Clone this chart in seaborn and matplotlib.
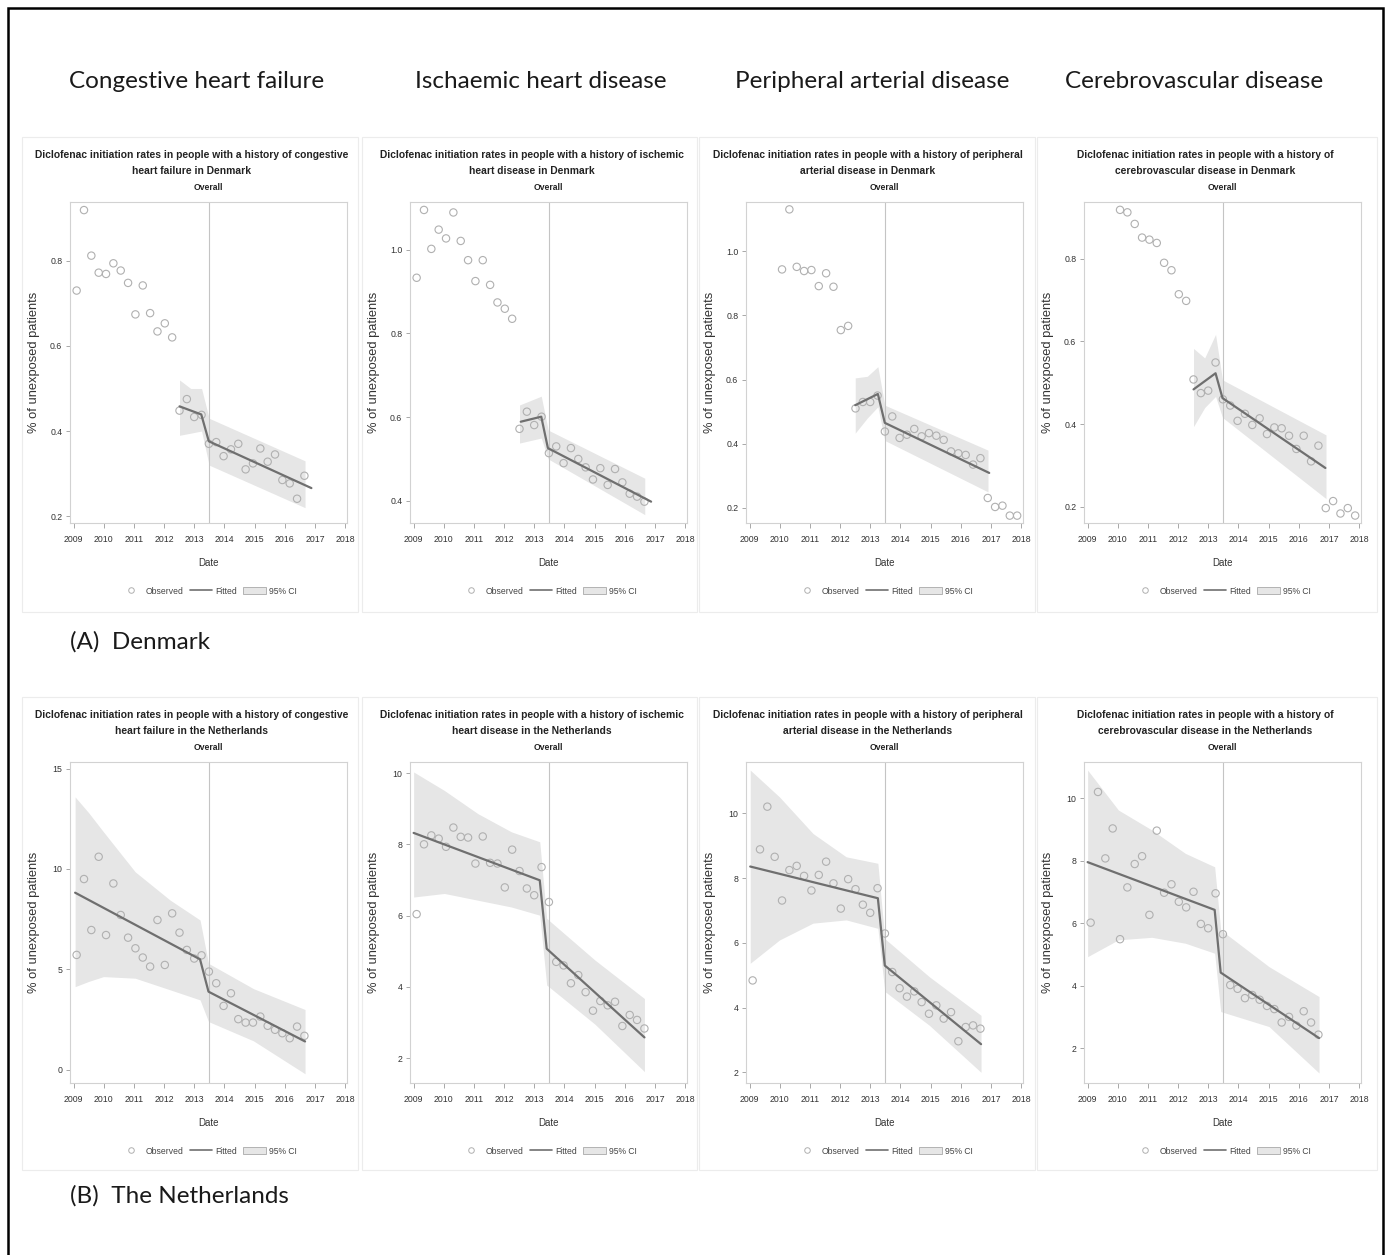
import numpy as np
import pandas as pd
import matplotlib
matplotlib.use("Agg")
import matplotlib.pyplot as plt
import seaborn as sns
from matplotlib.lines import Line2D
from matplotlib.patches import Patch, Rectangle

# ---- data ---------------------------------------------------------------
# observed quarterly rates; each series starts at a quarter index (0 = 2009 Q1)
chf_dk_start = 0
chf_dk_obs = [0.73, 0.919, 0.812, 0.772, 0.769, 0.794, 0.777, 0.748, 0.674, 0.742, 0.677, 0.634, 0.653, 0.620,
              0.448, 0.475, 0.433, 0.438, 0.370, 0.374, 0.341, 0.357, 0.370, 0.310, 0.324, 0.359, 0.328, 0.345,
              0.285, 0.277, 0.241, 0.295]
chf_dk_fit_x = [2012.51, 2013.23, 2013.48, 2016.88]
chf_dk_fit_y = [0.458, 0.439, 0.376, 0.266]
chf_dk_ci_x = [2012.51, 2012.88, 2013.24, 2013.49, 2016.67]
chf_dk_ci_lo = [0.39, 0.395, 0.40, 0.32, 0.22]
chf_dk_ci_hi = [0.52, 0.50, 0.50, 0.43, 0.33]

ihd_dk_start = 0
ihd_dk_obs = [0.933, 1.095, 1.002, 1.048, 1.027, 1.089, 1.021, 0.975, 0.925, 0.975, 0.916, 0.874, 0.859, 0.835,
              0.572, 0.613, 0.581, 0.601, 0.514, 0.530, 0.490, 0.526, 0.500, 0.480, 0.451, 0.478, 0.438, 0.476,
              0.444, 0.417, 0.410, 0.398]
ihd_dk_fit_x = [2012.55, 2013.23, 2013.45, 2016.87]
ihd_dk_fit_y = [0.589, 0.601, 0.526, 0.398]
ihd_dk_ci_x = [2012.51, 2013.23, 2013.46, 2016.66]
ihd_dk_ci_lo = [0.538, 0.55, 0.50, 0.367]
ihd_dk_ci_hi = [0.629, 0.65, 0.569, 0.454]

pad_dk_start = 4
pad_dk_obs = [0.943, 1.130, 0.951, 0.938, 0.941, 0.891, 0.931, 0.889, 0.754, 0.767,
              0.51, 0.53, 0.53, 0.55,
              0.438, 0.485, 0.418, 0.428, 0.446, 0.423, 0.433, 0.425, 0.412, 0.376, 0.370, 0.365, 0.335, 0.355,
              0.231, 0.203, 0.207, 0.176, 0.176]
pad_dk_fit_x = [2012.50, 2013.25, 2013.48, 2016.94]
pad_dk_fit_y = [0.52, 0.555, 0.465, 0.309]
pad_dk_ci_x = [2012.50, 2012.90, 2013.25, 2013.48, 2016.90]
pad_dk_ci_lo = [0.433, 0.48, 0.515, 0.41, 0.25]
pad_dk_ci_hi = [0.605, 0.61, 0.64, 0.52, 0.38]

cvd_dk_start = 4
cvd_dk_obs = [0.918, 0.912, 0.884, 0.851, 0.846, 0.838, 0.790, 0.772, 0.714, 0.698,
              0.508, 0.475, 0.481, 0.549,
              0.460, 0.445, 0.408, 0.425, 0.398, 0.414, 0.376, 0.392, 0.390, 0.372, 0.340, 0.372, 0.310, 0.348,
              0.197, 0.214, 0.184, 0.197, 0.179]
cvd_dk_fit_x = [2012.51, 2013.24, 2013.47, 2016.88]
cvd_dk_fit_y = [0.484, 0.523, 0.463, 0.294]
cvd_dk_ci_x = [2012.51, 2012.88, 2013.24, 2013.47, 2016.90]
cvd_dk_ci_lo = [0.394, 0.44, 0.467, 0.416, 0.22]
cvd_dk_ci_hi = [0.583, 0.56, 0.617, 0.507, 0.374]

chf_nl_start = 0
chf_nl_obs = [5.72, 9.50, 6.96, 10.61, 6.71, 9.28, 7.71, 6.58, 6.05, 5.59, 5.14, 7.46, 5.22, 7.79, 6.83, 5.97,
              5.54, 5.70, 4.89, 4.31, 3.18, 3.81, 2.52, 2.35, 2.35, 2.65, 2.19, 1.99, 1.82, 1.57, 2.15, 1.69]
chf_nl_fit_x = [2009.05, 2013.19, 2013.47, 2016.67]
chf_nl_fit_y = [8.82, 5.50, 3.89, 1.41]
chf_nl_ci_x = [2009.05, 2009.50, 2009.99, 2011.04, 2012.20, 2013.19, 2013.47, 2014.96, 2016.67]
chf_nl_ci_lo = [4.14, 4.40, 4.64, 4.56, 3.98, 3.48, 2.40, 1.44, -0.20]
chf_nl_ci_hi = [13.59, 12.80, 11.85, 9.86, 8.45, 7.46, 5.30, 4.04, 3.00]

ihd_nl_start = 0
ihd_nl_obs = [6.04, 8.00, 8.25, 8.16, 7.93, 8.47, 8.21, 8.19, 7.46, 8.22, 7.48, 7.46, 6.79, 7.85, 7.25, 6.76,
              6.57, 7.36, 6.38, 4.70, 4.60, 4.10, 4.33, 3.85, 3.33, 3.60, 3.48, 3.58, 2.90, 3.21, 3.07, 2.83]
ihd_nl_fit_x = [2009.00, 2013.18, 2013.41, 2016.65]
ihd_nl_fit_y = [8.32, 6.99, 5.07, 2.58]
ihd_nl_ci_x = [2009.00, 2010.02, 2011.13, 2012.24, 2013.18, 2013.41, 2015.01, 2016.65]
ihd_nl_ci_lo = [6.52, 6.62, 6.43, 6.24, 6.01, 4.05, 2.95, 1.62]
ihd_nl_ci_hi = [10.03, 9.51, 8.86, 8.35, 8.07, 5.92, 4.75, 3.67]

pad_nl_start = 0
pad_nl_obs = [4.84, 8.89, 10.21, 8.66, 7.31, 8.25, 8.38, 8.07, 7.62, 8.10, 8.51, 7.84, 7.06, 7.97, 7.66, 7.18,
              6.93, 7.69, 6.29, 5.10, 4.60, 4.34, 4.50, 4.17, 3.81, 4.07, 3.66, 3.86, 2.96, 3.40, 3.45, 3.35]
pad_nl_fit_x = [2009.02, 2013.25, 2013.48, 2016.67]
pad_nl_fit_y = [8.36, 7.38, 5.30, 2.87]
pad_nl_ci_x = [2009.02, 2009.99, 2011.10, 2012.20, 2013.25, 2013.48, 2014.96, 2016.67]
pad_nl_ci_lo = [5.37, 6.09, 6.61, 6.71, 6.45, 4.50, 3.45, 2.00]
pad_nl_ci_hi = [11.34, 10.51, 9.38, 8.66, 8.46, 6.13, 4.95, 3.76]

cvd_nl_start = 0
cvd_nl_obs = [6.02, 10.21, 8.08, 9.04, 5.49, 7.15, 7.90, 8.15, 6.27, 8.97, 6.98, 7.25, 6.69, 6.51, 7.01, 5.98,
              5.84, 6.96, 5.65, 4.02, 3.90, 3.60, 3.70, 3.55, 3.35, 3.25, 2.82, 3.00, 2.72, 3.18, 2.82, 2.43]
cvd_nl_fit_x = [2009.00, 2013.21, 2013.41, 2016.67]
cvd_nl_fit_y = [7.96, 6.43, 4.42, 2.32]
cvd_nl_ci_x = [2009.00, 2010.02, 2011.13, 2012.24, 2013.21, 2013.41, 2015.01, 2016.67]
cvd_nl_ci_lo = [4.93, 5.47, 5.55, 5.36, 5.04, 3.17, 2.69, 1.20]
cvd_nl_ci_hi = [10.91, 9.63, 8.99, 8.24, 7.81, 5.79, 4.61, 3.65]

conditions = ["Congestive heart failure", "Ischaemic heart disease",
              "Peripheral arterial disease", "Cerebrovascular disease"]
title_lines = [("Diclofenac initiation rates in people with a history of congestive", "heart failure in"),
               ("Diclofenac initiation rates in people with a history of ischemic", "heart disease in"),
               ("Diclofenac initiation rates in people with a history of peripheral", "arterial disease in"),
               ("Diclofenac initiation rates in people with a history of", "cerebrovascular disease in")]
countries = ["Denmark", "the Netherlands"]
row_labels = ["(A)  Denmark", "(B)  The Netherlands"]
year_ticks = [2009, 2010, 2011, 2012, 2013, 2014, 2015, 2016, 2017, 2018]
dk_yticks = [[0.2, 0.4, 0.6, 0.8], [0.4, 0.6, 0.8, 1.0], [0.2, 0.4, 0.6, 0.8, 1.0], [0.2, 0.4, 0.6, 0.8]]
nl_yticks = [[0, 5, 10, 15], [2, 4, 6, 8, 10], [2, 4, 6, 8, 10], [2, 4, 6, 8, 10]]
dk_ylims = [(0.184, 0.938), (0.347, 1.114), (0.153, 1.153), (0.161, 0.937)]
nl_ylims = [(-0.66, 15.33), (1.30, 10.31), (1.67, 11.59), (0.88, 11.17)]
intervention = 2013.5

# quarter index -> position on the date axis
quarter_pos = 2009.1 + 0.2435 * np.arange(37)

# ---- style ---------------------------------------------------------------
sns.set_theme(style="ticks")
plt.rcParams["font.family"] = ["Liberation Sans", "DejaVu Sans"]

BAND = "#e6e6e6"
LINE = "#6f6f6f"
POINT = "#b0b0b0"
FRAME = "#d2d2d2"
TXT = "#333333"

W, H = 1385, 1255
fig = plt.figure(figsize=(W / 100, H / 100), dpi=100)
fig.patch.set_facecolor("white")


def fx(x):
    return x / W


def fy(y):
    return 1 - y / H


# outer frame and faint panel boxes
fig.patches.append(Rectangle((fx(8), fy(1262)), fx(1375), 1254 / H, transform=fig.transFigure,
                             fill=False, edgecolor="black", linewidth=1.8))
box_x = [(22, 358), (362, 697), (699, 1035), (1037, 1377)]
box_y = [(137, 612), (697, 1170)]
for (y0, y1) in box_y:
    for (x0, x1) in box_x:
        fig.patches.append(Rectangle((fx(x0), fy(y1)), (x1 - x0) / W, (y1 - y0) / H,
                                     transform=fig.transFigure, fill=False,
                                     edgecolor="#ececec", linewidth=0.8))

heading_x = [197, 541, 872, 1194]
for cx, name in zip(heading_x, conditions):
    fig.text(fx(cx), fy(82), name, family="Lato", fontsize=17.5, ha="center", va="center", color="#1a1a1a")
fig.text(fx(70), fy(642), row_labels[0], family="Lato", fontsize=17.5, ha="left", va="center", color="#1a1a1a")
fig.text(fx(70), fy(1196), row_labels[1], family="Lato", fontsize=17.5, ha="left", va="center", color="#1a1a1a")

panels = [
    [(chf_dk_start, chf_dk_obs, chf_dk_fit_x, chf_dk_fit_y, chf_dk_ci_x, chf_dk_ci_lo, chf_dk_ci_hi),
     (ihd_dk_start, ihd_dk_obs, ihd_dk_fit_x, ihd_dk_fit_y, ihd_dk_ci_x, ihd_dk_ci_lo, ihd_dk_ci_hi),
     (pad_dk_start, pad_dk_obs, pad_dk_fit_x, pad_dk_fit_y, pad_dk_ci_x, pad_dk_ci_lo, pad_dk_ci_hi),
     (cvd_dk_start, cvd_dk_obs, cvd_dk_fit_x, cvd_dk_fit_y, cvd_dk_ci_x, cvd_dk_ci_lo, cvd_dk_ci_hi)],
    [(chf_nl_start, chf_nl_obs, chf_nl_fit_x, chf_nl_fit_y, chf_nl_ci_x, chf_nl_ci_lo, chf_nl_ci_hi),
     (ihd_nl_start, ihd_nl_obs, ihd_nl_fit_x, ihd_nl_fit_y, ihd_nl_ci_x, ihd_nl_ci_lo, ihd_nl_ci_hi),
     (pad_nl_start, pad_nl_obs, pad_nl_fit_x, pad_nl_fit_y, pad_nl_ci_x, pad_nl_ci_lo, pad_nl_ci_hi),
     (cvd_nl_start, cvd_nl_obs, cvd_nl_fit_x, cvd_nl_fit_y, cvd_nl_ci_x, cvd_nl_ci_lo, cvd_nl_ci_hi)],
]
yticks_rows = [dk_yticks, nl_yticks]
ylims_rows = [dk_ylims, nl_ylims]

ax_left = [70, 410, 746, 1084]
ax_top = [202, 762]
AW, AH = 277, 321

legend_handles = [
    Line2D([], [], marker="o", linestyle="none", markerfacecolor="none", markeredgecolor=POINT,
           markersize=4, markeredgewidth=0.7),
    Line2D([], [], color=LINE, linewidth=1.2),
    Patch(facecolor=BAND, edgecolor="#9a9a9a", linewidth=0.5),
]

for r in range(2):
    for c in range(4):
        start, obs, fit_x, fit_y, ci_x, ci_lo, ci_hi = panels[r][c]
        left, top = ax_left[c], ax_top[r]
        ax = fig.add_axes([fx(left), fy(top + AH), AW / W, AH / H])

        ax.fill_between(ci_x, ci_lo, ci_hi, color=BAND, linewidth=0, zorder=1)
        ax.axvline(intervention, color="#c4c4c4", linewidth=0.8, zorder=2)
        df = pd.DataFrame({"date": quarter_pos[start:start + len(obs)], "rate": obs})
        sns.scatterplot(data=df, x="date", y="rate", ax=ax, marker="o", s=28,
                        facecolor="none", edgecolor=POINT, linewidth=0.8, zorder=3)
        sns.lineplot(x=fit_x, y=fit_y, ax=ax, color=LINE, linewidth=1.6,
                     sort=False, estimator=None, zorder=4)

        ax.set_xlim(2008.88, 2018.06)
        ax.set_ylim(*ylims_rows[r][c])
        ax.set_xticks(year_ticks)
        ax.set_xticklabels([str(y) for y in year_ticks])
        yt = yticks_rows[r][c]
        ax.set_yticks(yt)
        ax.set_yticklabels([f"{v:.1f}" if r == 0 else f"{v:.0f}" for v in yt])
        ax.tick_params(axis="x", labelsize=6.3, length=3.5, width=0.6, pad=5, color="#9a9a9a",
                       labelcolor=TXT)
        ax.tick_params(axis="y", labelsize=6.3, length=3, width=0.6, pad=2.5, color="#9a9a9a",
                       labelcolor=TXT)
        for s in ax.spines.values():
            s.set_color(FRAME)
            s.set_linewidth(0.8)

        ax.set_xlabel("Date", fontsize=7, color=TXT)
        ax.xaxis.set_label_coords(0.5, -35 / AH)
        ax.set_ylabel("% of unexposed patients", fontsize=9.3, color=TXT)
        ax.yaxis.set_label_coords(-30 / AW, 0.5)

        ax.legend(legend_handles, ["Observed", "Fitted", "95% CI"], loc="center",
                  bbox_to_anchor=(0.5, -68 / AH), ncol=3, frameon=False, fontsize=6.2,
                  handlelength=2.6, handletextpad=0.4, columnspacing=0.7, labelcolor="#444444")

        cx = left + AW / 2
        line1, line2 = title_lines[c]
        fig.text(fx(cx - 17), fy(top - 47), line1, fontsize=7.4, fontweight="bold",
                 ha="center", va="center", color="#222222")
        fig.text(fx(cx - 17), fy(top - 31), f"{line2} {countries[r]}", fontsize=7.4,
                 fontweight="bold", ha="center", va="center", color="#222222")
        fig.text(fx(cx), fy(top - 14), "Overall", fontsize=6.2, fontweight="bold",
                 ha="center", va="center", color="#222222")

fig.savefig("out.png", dpi=100)
